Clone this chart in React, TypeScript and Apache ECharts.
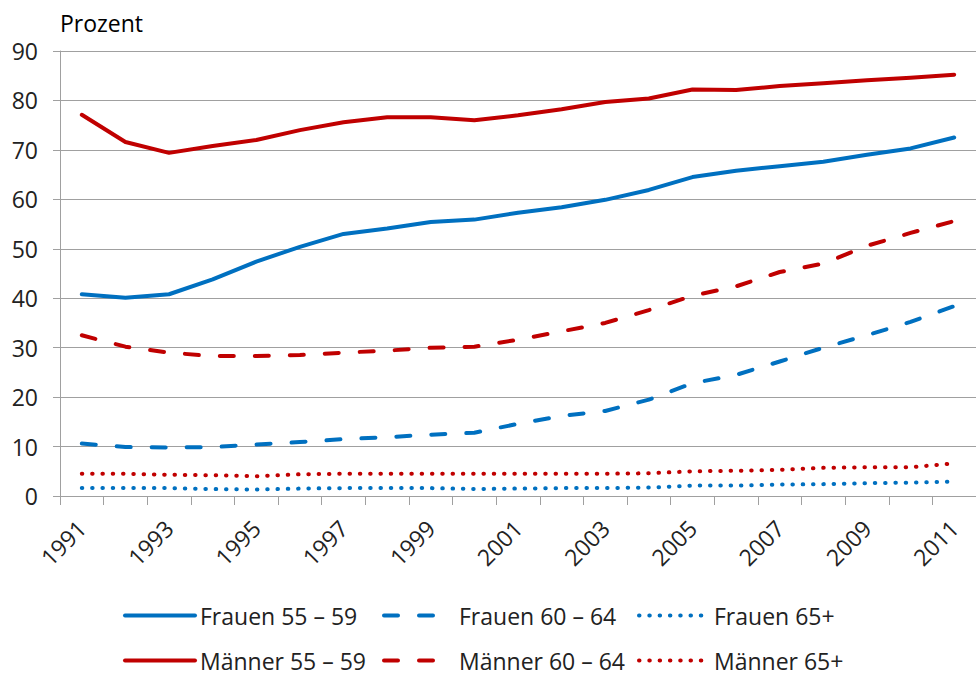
import React, { useEffect, useRef } from "react";
import * as echarts from "echarts";

const years = [
  "1991", "1992", "1993", "1994", "1995", "1996", "1997", "1998", "1999", "2000",
  "2001", "2002", "2003", "2004", "2005", "2006", "2007", "2008", "2009", "2010", "2011",
];

const frauen5559 = [40.8, 40.1, 40.8, 43.8, 47.4, 50.4, 53.0, 54.1, 55.4, 55.9, 57.3, 58.4, 59.9, 61.9, 64.5, 65.8, 66.7, 67.6, 69.0, 70.3, 72.5];
const frauen6064 = [10.6, 9.9, 9.8, 9.9, 10.4, 10.9, 11.5, 11.9, 12.4, 12.8, 14.6, 16.2, 17.2, 19.5, 22.8, 24.5, 27.2, 30.0, 32.5, 35.2, 38.4];
const frauen65 = [1.6, 1.6, 1.6, 1.4, 1.3, 1.5, 1.6, 1.6, 1.6, 1.4, 1.5, 1.6, 1.6, 1.7, 2.1, 2.1, 2.3, 2.4, 2.6, 2.7, 2.9];
const maenner5559 = [77.1, 71.6, 69.4, 70.8, 72.0, 74.0, 75.6, 76.6, 76.6, 76.0, 77.0, 78.2, 79.7, 80.4, 82.2, 82.1, 82.9, 83.5, 84.1, 84.6, 85.2];
const maenner6064 = [32.5, 30.2, 29.0, 28.3, 28.3, 28.5, 29.0, 29.4, 30.0, 30.2, 31.6, 33.3, 35.0, 37.6, 40.5, 42.4, 45.3, 47.0, 50.6, 53.2, 55.6];
const maenner65 = [4.5, 4.5, 4.3, 4.2, 4.0, 4.4, 4.5, 4.5, 4.5, 4.5, 4.5, 4.5, 4.5, 4.6, 5.0, 5.1, 5.3, 5.7, 5.8, 5.8, 6.6];

const seriesNames = [
  "Frauen 55 – 59", "Frauen 60 – 64", "Frauen 65+",
  "Männer 55 – 59", "Männer 60 – 64", "Männer 65+",
];
const yTicks = { min: 0, max: 90, interval: 10 };
const yTitle = "Prozent";

const BLUE = "#0070C0";
const RED = "#C00000";
const FONT = "Open Sans";
const TXT = "#222222";
const GRID = "#A0A0A0";

const DASH = [14, 21];
const DOT = [0.5, 9.8];

export default function App() {
  const ref = useRef<HTMLDivElement>(null);
  useEffect(() => {
    if (!ref.current) return;
    const chart = echarts.init(ref.current, undefined, { renderer: "svg" });

    const mk = (name: string, data: number[], color: string, type: any) => ({
      name,
      type: "line",
      data,
      symbol: "none",
      showSymbol: false,
      smooth: false,
      lineStyle: { color, width: 4, type, cap: "round", join: "round" },
      itemStyle: { color },
      emphasis: { disabled: true },
    });

    const legendCols = [123, 382, 637];
    const legendRows = [604, 649];
    const legends = seriesNames.map((n, i) => ({
      data: [n],
      left: legendCols[i % 3],
      top: legendRows[Math.floor(i / 3)],
      padding: 0,
      itemWidth: 70,
      itemHeight: 14,
      itemGap: 0,
      selectedMode: false,
      textStyle: { fontFamily: FONT, fontSize: 23, color: TXT, lineHeight: 20 },
      lineStyle: { width: 4 },
      itemStyle: { opacity: 0 },
    }));

    chart.setOption({
      animation: false,
      backgroundColor: "#ffffff",
      title: {
        text: yTitle,
        left: 60,
        top: 11,
        padding: 0,
        textStyle: { fontFamily: FONT, fontSize: 23, fontWeight: "normal", color: "#000" },
      },
      legend: legends,
      grid: { left: 60, right: 0, top: 51, bottom: 179, containLabel: false },
      xAxis: {
        type: "category",
        data: years,
        boundaryGap: true,
        axisLine: { show: true, lineStyle: { color: GRID, width: 1 } },
        axisTick: { show: true, interval: 0, length: 9, lineStyle: { color: GRID } },
        axisLabel: {
          interval: 1,
          rotate: 45,
          margin: 28,
          fontFamily: FONT,
          fontSize: 23,
          color: TXT,
          hideOverlap: false,
        },
        splitLine: { show: false },
      },
      yAxis: {
        type: "value",
        min: yTicks.min,
        max: yTicks.max,
        interval: yTicks.interval,
        axisLine: { show: true, lineStyle: { color: GRID, width: 1 } },
        axisTick: { show: true, length: 7, lineStyle: { color: GRID } },
        axisLabel: { margin: 22, fontFamily: FONT, fontSize: 23, color: TXT },
        splitLine: { show: true, lineStyle: { color: GRID, width: 1 } },
      },
      series: [
        mk(seriesNames[2], frauen65, BLUE, DOT),
        mk(seriesNames[5], maenner65, RED, DOT),
        mk(seriesNames[1], frauen6064, BLUE, DASH),
        mk(seriesNames[4], maenner6064, RED, DASH),
        mk(seriesNames[0], frauen5559, BLUE, "solid"),
        mk(seriesNames[3], maenner5559, RED, "solid"),
      ],
    });
    return () => chart.dispose();
  }, []);

  return (
    <div
      ref={ref}
      style={{ position: "fixed", left: 0, top: 0, width: 976, height: 675, background: "#fff" }}
    />
  );
}
